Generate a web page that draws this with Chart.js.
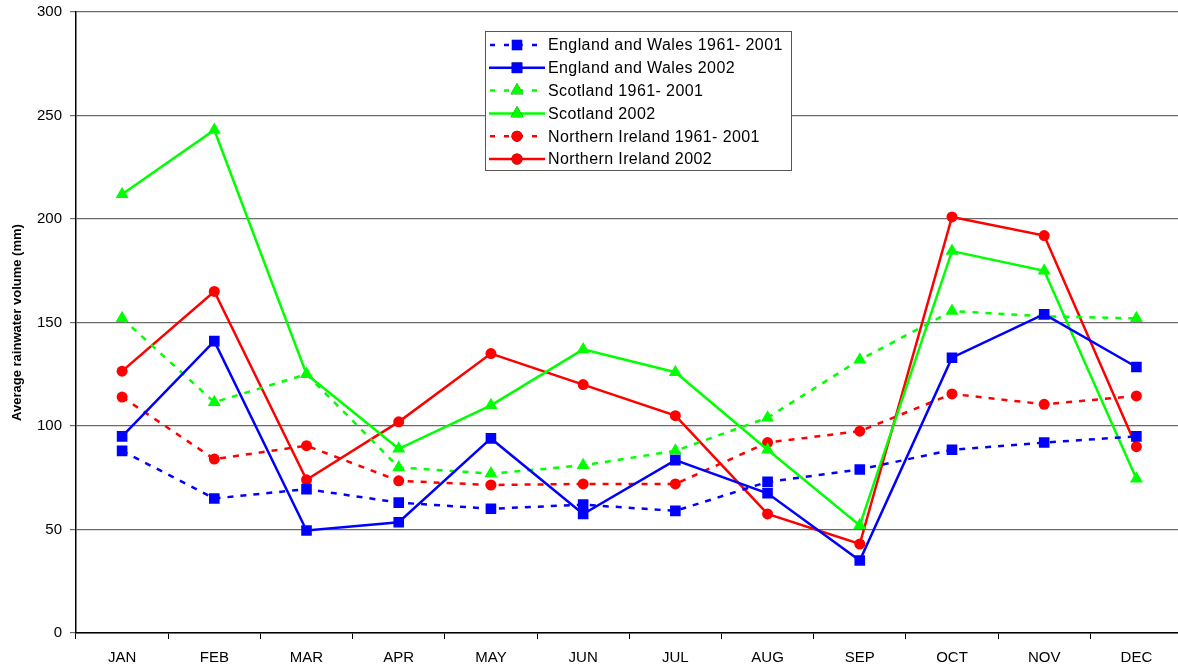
<!DOCTYPE html>
<html>
<head>
<meta charset="utf-8">
<script src="https://cdn.jsdelivr.net/npm/chart.js@4"></script>
<style>
  html, body { margin: 0; padding: 0; background: #fff; overflow: hidden; }
  #wrap { width: 1178px; height: 666px; overflow: hidden; }
</style>
</head>
<body>
<div id="wrap"><canvas id="chart" width="1190" height="666"></canvas></div>
<script>
const months = ["JAN", "FEB", "MAR", "APR", "MAY", "JUN", "JUL", "AUG", "SEP", "OCT", "NOV", "DEC"];

const ewAvg = [88, 65, 69.5, 63, 60, 62, 59, 73, 79, 88.5, 92, 95];
const ew2002 = [95, 141, 49.5, 53.5, 94, 57.5, 83.5, 67.5, 35, 133, 154, 128.5];
const scAvg = [152, 111.5, 125, 80, 77, 81, 88, 104, 132, 155.5, 153, 152];
const sc2002 = [212, 243, 125, 89, 110, 137, 126, 88.5, 52, 184.5, 175, 74.5];
const niAvg = [114, 84, 90.5, 73.5, 71.5, 72, 72, 92, 97.5, 115.5, 110.5, 114.5];
const ni2002 = [126.5, 165, 74, 102, 135, 120, 105, 57.5, 43, 201, 192, 90];

const yTicks = [0, 50, 100, 150, 200, 250, 300];

const FONT = "'Liberation Sans', Arial, sans-serif";
const BLUE = "#0000ff";
const GREEN = "#00ff00";
const RED = "#ff0000";
const DASH = [6, 7];

function series(label, data, color, style, dashed) {
  return {
    label: label,
    data: data,
    borderColor: color,
    backgroundColor: color,
    borderWidth: 2.5,
    borderDash: dashed ? DASH : [],
    pointStyle: style,
    pointRadius: style === "rect" ? 7.5 : style === "triangle" ? 7.5 : 5.5,
    pointHoverRadius: 7,
    pointBorderWidth: 0,
    tension: 0,
    fill: false,
  };
}

// legend drawn as a boxed key inside the plot area
const boxLegend = {
  id: "boxLegend",
  afterDatasetsDraw(chart) {
    const ctx = chart.ctx;
    const x0 = 485, y0 = 31, w = 306, h = 139;
    ctx.save();
    ctx.fillStyle = "#fff";
    ctx.fillRect(x0, y0, w, h);
    ctx.strokeStyle = "#555";
    ctx.lineWidth = 1;
    ctx.strokeRect(x0 + 0.5, y0 + 0.5, w, h);
    ctx.font = "16px " + FONT;
    ctx.letterSpacing = "0.4px";
    ctx.textBaseline = "middle";
    chart.data.datasets.forEach((ds, i) => {
      const y = 45 + i * 22.8;
      ctx.strokeStyle = ds.borderColor;
      ctx.lineWidth = 2.5;
      ctx.setLineDash(ds.borderDash.length ? [5, 9] : []);
      ctx.beginPath();
      ctx.moveTo(ds.borderDash.length ? 490 : 489, y);
      ctx.lineTo(545, y);
      ctx.stroke();
      ctx.setLineDash([]);
      Chart.helpers.drawPoint(ctx, {
        pointStyle: ds.pointStyle,
        radius: ds.pointRadius,
        borderWidth: 0,
        rotation: 0,
      }, 517, y);
      ctx.fillStyle = ds.borderColor;
      ctx.fill();
      ctx.fillStyle = "#000";
      ctx.fillText(ds.label, 548, y + 1);
    });
    ctx.restore();
  },
};

const whiteBg = {
  id: "whiteBg",
  beforeDraw(chart) {
    const ctx = chart.ctx;
    ctx.save();
    ctx.fillStyle = "#fff";
    ctx.fillRect(0, 0, chart.width, chart.height);
    ctx.restore();
  },
};

new Chart(document.getElementById("chart"), {
  type: "line",
  data: {
    labels: months,
    datasets: [
      series("England and Wales 1961- 2001", ewAvg, BLUE, "rect", true),
      series("England and Wales 2002", ew2002, BLUE, "rect", false),
      series("Scotland 1961- 2001", scAvg, GREEN, "triangle", true),
      series("Scotland 2002", sc2002, GREEN, "triangle", false),
      series("Northern Ireland 1961- 2001", niAvg, RED, "circle", true),
      series("Northern Ireland 2002", ni2002, RED, "circle", false),
    ],
  },
  options: {
    responsive: false,
    animation: false,
    layout: { padding: { top: 12, right: 0, left: 0, bottom: 0 } },
    plugins: {
      legend: { display: false },
      tooltip: { enabled: false },
    },
    scales: {
      x: {
        offset: true,
        grid: {
          offset: true,
          drawOnChartArea: false,
          color: "#000",
          tickLength: 6,
        },
        border: { color: "#000", width: 1.5 },
        ticks: {
          color: "#000",
          font: { family: FONT, size: 15 },
          padding: 10,
          maxRotation: 0,
        },
        afterFit(scale) { scale.height = 33; },
      },
      y: {
        min: 0,
        max: 300,
        afterBuildTicks(scale) { scale.ticks = yTicks.map(v => ({ value: v })); },
        grid: {
          color: "#6b6b6b",
          lineWidth: 1.2,
          tickLength: 6,
        },
        border: { color: "#000", width: 1.5 },
        ticks: {
          color: "#000",
          font: { family: FONT, size: 15 },
          padding: 8,
        },
        title: {
          display: true,
          text: "Average rainwater volume (mm)",
          color: "#000",
          font: { family: FONT, size: 13, weight: "bold" },
          padding: { top: 10, bottom: 0 },
        },
        afterFit(scale) {
          scale.width = 76;
          scale.paddingTop = 0;
          scale.paddingBottom = 0;
        },
      },
    },
  },
  plugins: [whiteBg, boxLegend],
});
</script>
</body>
</html>
